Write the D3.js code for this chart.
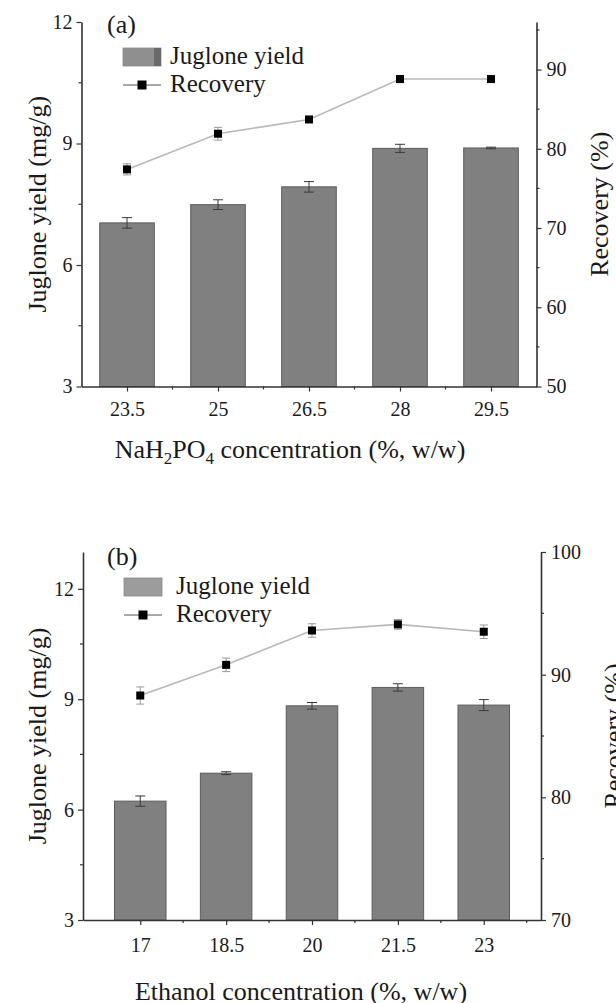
<!DOCTYPE html>
<html>
<head>
<meta charset="utf-8">
<script src="https://cdn.jsdelivr.net/npm/d3@7/dist/d3.min.js"></script>
<style>
  html, body { margin: 0; padding: 0; background: #fff; }
  svg { display: block; }
  svg text { font-family: 'Liberation Serif', 'Times New Roman', Times, 'DejaVu Serif', serif !important; fill: #1a1a1a; }
</style>
</head>
<body>
<svg id="chart" width="616" height="1003"></svg>
<script>
// ---- Panel (a): NaH2PO4 concentration ----
const naConc = [23.5, 25, 26.5, 28, 29.5];
const naYield = [7.04, 7.49, 7.93, 8.88, 8.89];
const naYieldErr = [0.13, 0.12, 0.13, 0.10, 0.02];
const naRecovery = [77.4, 81.9, 83.7, 88.8, 88.8];
const naRecoveryErr = [0.7, 0.8, 0.3, 0.3, 0.3];
const naYieldTicks = [3, 6, 9, 12];
const naRecoveryTicks = [50, 60, 70, 80, 90];

// ---- Panel (b): Ethanol concentration ----
const etConc = [17, 18.5, 20, 21.5, 23];
const etYield = [6.23, 6.99, 8.82, 9.32, 8.84];
const etYieldErr = [0.14, 0.04, 0.09, 0.10, 0.15];
const etRecovery = [88.3, 90.8, 93.6, 94.1, 93.5];
const etRecoveryErr = [0.7, 0.55, 0.55, 0.4, 0.55];
const etYieldTicks = [3, 6, 9, 12];
const etRecoveryTicks = [70, 80, 90, 100];

const SERIF = "'Liberation Serif', 'Times New Roman', Times, 'DejaVu Serif', serif";
const svg = d3.select("#chart").attr("font-family", SERIF);

const AXIS = "#333";
const BAR_FILL = "#808080";
const BAR_EDGE = "#5c5c5c";
const LINE = "#b8b8b8";

function drawPanel(p) {
  const g = svg.append("g");
  const x = d3.scaleLinear().domain(p.xDomain).range([p.left, p.right]);
  const yL = d3.scaleLinear().domain(p.yLDomain).range([p.bottom, p.top]);
  const yR = d3.scaleLinear().domain(p.yRDomain).range([p.bottom, p.top]);
  const step = p.conc[1] - p.conc[0];
  const barW = x(p.xDomain[0] + step * 0.6) - x(p.xDomain[0]);

  // bars
  g.selectAll("rect.bar").data(p.conc).enter().append("rect")
    .attr("x", (d) => x(d) - barW / 2)
    .attr("y", (d, i) => yL(p.yield[i]))
    .attr("width", barW)
    .attr("height", (d, i) => yL(p.yLDomain[0]) - yL(p.yield[i]))
    .attr("fill", BAR_FILL).attr("stroke", BAR_EDGE).attr("stroke-width", 1);

  // bar error bars
  p.conc.forEach((c, i) => {
    const cx = x(c), hi = yL(p.yield[i] + p.yieldErr[i]), lo = yL(p.yield[i] - p.yieldErr[i]);
    g.append("line").attr("x1", cx).attr("x2", cx).attr("y1", hi).attr("y2", lo)
      .attr("stroke", "#3a3a3a").attr("stroke-width", 1);
    [hi, lo].forEach(yy => g.append("line").attr("x1", cx - 5).attr("x2", cx + 5)
      .attr("y1", yy).attr("y2", yy).attr("stroke", "#3a3a3a").attr("stroke-width", 1));
  });

  // recovery line with markers
  const line = d3.line().x((d) => x(d)).y((d, i) => yR(p.recovery[i]));
  g.append("path").datum(p.conc).attr("d", line)
    .attr("fill", "none").attr("stroke", LINE).attr("stroke-width", 1.6);

  p.conc.forEach((c, i) => {
    const cx = x(c), hi = yR(p.recovery[i] + p.recoveryErr[i]), lo = yR(p.recovery[i] - p.recoveryErr[i]);
    g.append("line").attr("x1", cx).attr("x2", cx).attr("y1", hi).attr("y2", lo)
      .attr("stroke", "#999").attr("stroke-width", 1);
    [hi, lo].forEach(yy => g.append("line").attr("x1", cx - 4).attr("x2", cx + 4)
      .attr("y1", yy).attr("y2", yy).attr("stroke", "#999").attr("stroke-width", 1));
  });
  g.selectAll("rect.mk").data(p.conc).enter().append("rect")
    .attr("x", (d) => x(d) - 4).attr("y", (d, i) => yR(p.recovery[i]) - 4)
    .attr("width", 8).attr("height", 8).attr("fill", "#000");

  // x axis with minor ticks between categories
  const minorX = p.conc.map(c => c + step / 2).filter(v => v < p.xDomain[1]);
  const xAxis = d3.axisBottom(x).tickValues(p.conc).tickFormat(d => String(d))
    .tickSize(5).tickSizeOuter(0).tickPadding(8);
  const gx = g.append("g").attr("transform", `translate(0,${p.bottom})`).call(xAxis);
  minorX.forEach(v => g.append("line").attr("x1", x(v)).attr("x2", x(v))
    .attr("y1", p.bottom).attr("y2", p.bottom + 3).attr("stroke", AXIS).attr("stroke-width", 1.2));

  // left axis
  const yAxisL = d3.axisLeft(yL).tickValues(p.yLTicks).tickFormat(d => String(d))
    .tickSize(5).tickSizeOuter(0).tickPadding(4);
  const gyl = g.append("g").attr("transform", `translate(${p.left},0)`).call(yAxisL);
  p.yLMinor.forEach(v => g.append("line").attr("x1", p.left - 3).attr("x2", p.left)
    .attr("y1", yL(v)).attr("y2", yL(v)).attr("stroke", AXIS).attr("stroke-width", 1.2));

  // right axis
  const yAxisR = d3.axisRight(yR).tickValues(p.yRTicks).tickFormat(d => String(d))
    .tickSize(5).tickSizeOuter(0).tickPadding(5);
  const gyr = g.append("g").attr("transform", `translate(${p.right},0)`).call(yAxisR);
  p.yRMinor.forEach(v => g.append("line").attr("x1", p.right).attr("x2", p.right + 3)
    .attr("y1", yR(v)).attr("y2", yR(v)).attr("stroke", AXIS).attr("stroke-width", 1.2));

  [gx, gyl, gyr].forEach(a => {
    a.attr("font-family", SERIF);
    a.selectAll(".domain").attr("stroke", AXIS).attr("stroke-width", 1.6);
    a.selectAll(".tick line").attr("stroke", AXIS).attr("stroke-width", 1.2);
    a.selectAll(".tick text").attr("font-size", 20).attr("fill", "#1a1a1a");
  });
  gx.selectAll(".tick text").attr("dy", null).attr("y", p.xLabelDy);

  // axis titles
  g.append("text").attr("transform", `translate(${p.yLTitleX},${(p.top + p.bottom) / 2}) rotate(-90)`)
    .attr("text-anchor", "middle").attr("font-size", 26).text("Juglone yield (mg/g)");
  g.append("text").attr("transform", `translate(${p.yRTitleX},${(p.top + p.bottom) / 2}) rotate(-90)`)
    .attr("text-anchor", "middle").attr("font-size", 26).text("Recovery (%)");
  p.drawXTitle(g.append("text").attr("x", p.xTitleX).attr("y", p.xTitleY)
    .attr("text-anchor", "middle").attr("font-size", 26));

  // panel tag and legend
  g.append("text").attr("x", p.tagX).attr("y", p.tagY).attr("font-size", 26).text(p.tag);
  const lg = p.legend;
  g.append("rect").attr("x", lg.x).attr("y", lg.y).attr("width", 38).attr("height", 18)
    .attr("fill", lg.swatch).attr("stroke", "#8a8a8a").attr("stroke-width", 0.8);
  if (lg.edge) {
    g.append("rect").attr("x", lg.x + 31).attr("y", lg.y).attr("width", 7).attr("height", 18)
      .attr("fill", lg.edge);
  }
  g.append("text").attr("x", lg.x + lg.textDx).attr("y", lg.y + 16).attr("font-size", 25).text("Juglone yield");
  const ly = lg.y + 37;
  g.append("line").attr("x1", lg.x).attr("x2", lg.x + 38).attr("y1", ly).attr("y2", ly)
    .attr("stroke", "#555").attr("stroke-width", 1);
  g.append("rect").attr("x", lg.x + 19 - 4.5).attr("y", ly - 4.5).attr("width", 9).attr("height", 9).attr("fill", "#000");
  g.append("text").attr("x", lg.x + lg.textDx).attr("y", ly + 7).attr("font-size", 25).text("Recovery");
}

drawPanel({
  conc: naConc, yield: naYield, yieldErr: naYieldErr,
  recovery: naRecovery, recoveryErr: naRecoveryErr,
  yLTicks: naYieldTicks, yRTicks: naRecoveryTicks,
  yLMinor: [4.5, 7.5, 10.5], yRMinor: [55, 65, 75, 85, 95],
  xDomain: [22.75, 30.25], yLDomain: [3, 12], yRDomain: [50, 96],
  left: 81.5, right: 536.5, top: 22, bottom: 386.5,
  xLabelDy: 29,
  yLTitleX: 46, yRTitleX: 608,
  xTitleX: 290, xTitleY: 458,
  drawXTitle: (t) => {
    t.append("tspan").text("NaH");
    t.append("tspan").attr("font-size", 17).attr("dy", 6).text("2");
    t.append("tspan").attr("dy", -6).text("PO");
    t.append("tspan").attr("font-size", 17).attr("dy", 6).text("4");
    t.append("tspan").attr("dy", -6).text(" concentration (%, w/w)");
  },
  tag: "(a)", tagX: 107, tagY: 33,
  legend: { x: 123, y: 48, swatch: "#8f8f8f", edge: "#6a6a6a", textDx: 47 }
});

drawPanel({
  conc: etConc, yield: etYield, yieldErr: etYieldErr,
  recovery: etRecovery, recoveryErr: etRecoveryErr,
  yLTicks: etYieldTicks, yRTicks: etRecoveryTicks,
  yLMinor: [4.5, 7.5, 10.5], yRMinor: [75, 85, 95],
  xDomain: [16, 24], yLDomain: [3, 13], yRDomain: [70, 100],
  left: 83, right: 541, top: 552, bottom: 920,
  xLabelDy: 32,
  yLTitleX: 46, yRTitleX: 622,
  xTitleX: 301, xTitleY: 1000,
  drawXTitle: (t) => { t.text("Ethanol concentration (%, w/w)"); },
  tag: "(b)", tagX: 107, tagY: 565,
  legend: { x: 124, y: 578, swatch: "#9c9c9c", edge: null, textDx: 52 }
});
</script>
</body>
</html>
